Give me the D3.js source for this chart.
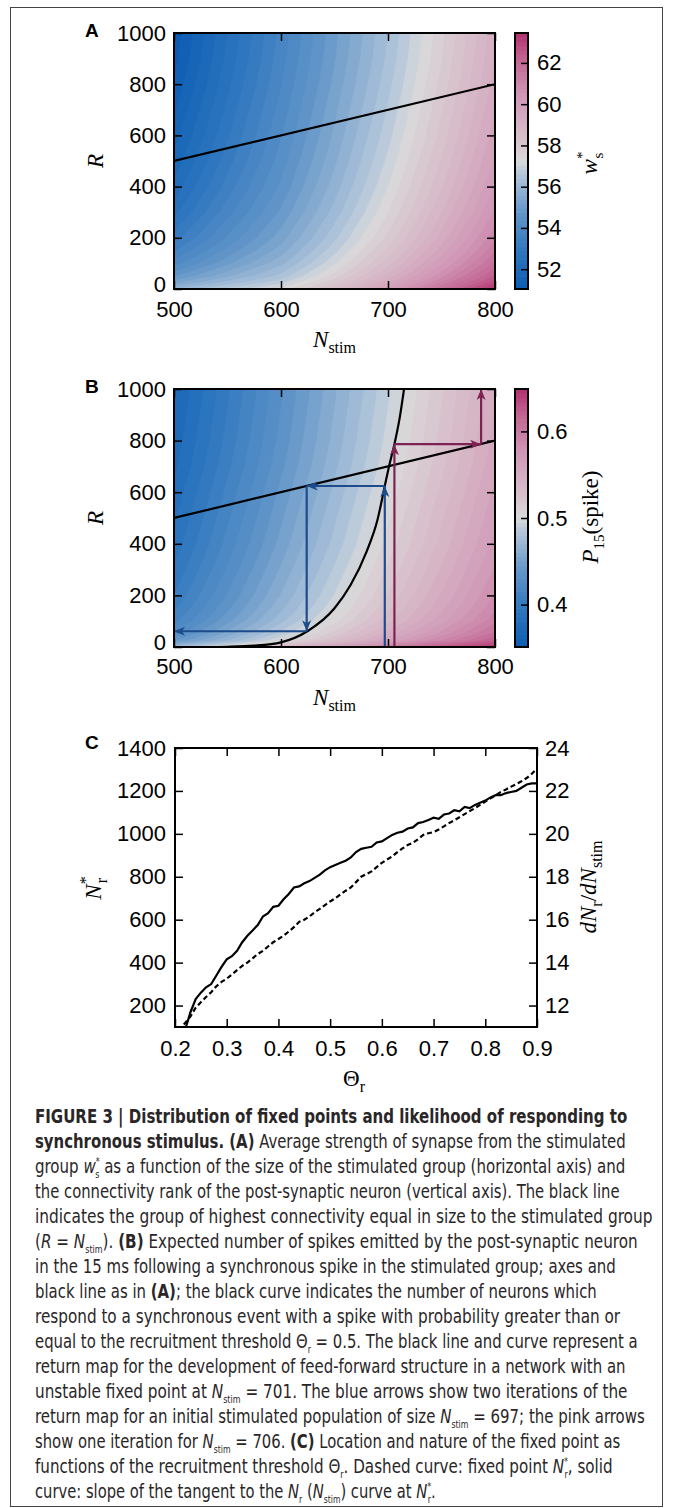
<!DOCTYPE html>
<html><head><meta charset="utf-8">
<script src="https://cdn.jsdelivr.net/npm/d3@7"></script>
<style>
body{margin:0;background:#fff;}
svg{display:block;}
.ax text{font-family:"Liberation Sans",Arial,Helvetica,sans-serif;font-size:22px;fill:#000;}
.ax line{stroke:#000;stroke-width:1.5;}
.ax path{display:none;}
.math{font-family:"Liberation Serif","Times New Roman",serif;fill:#000;}
.cap{font-family:"Liberation Sans Narrow","DejaVu Sans Condensed","Roboto Condensed","Liberation Sans",sans-serif;font-size:19px;fill:#2a2627;}
</style></head><body>
<svg id="fig" width="673" height="1508"></svg>
<script>
// ---------------- DATA ----------------
const nStimGrid = [500, 550, 600, 650, 700, 750, 800];
const rankGrid = [0, 25, 50, 100, 150, 200, 300, 400, 500, 600, 700, 800, 900, 1000];
// Panel A: w_s* (rows = rankGrid ascending, cols = nStimGrid)
const wsGrid = [
  [56.0, 56.7, 57.3, 58.5, 60.0, 61.7, 63.4],
  [55.3, 56.1, 56.8, 58.01, 59.48, 61.14, 62.81],
  [54.75, 55.63, 56.4, 57.63, 59.08, 60.7, 62.35],
  [54.05, 55.02, 55.9, 57.14, 58.56, 60.14, 61.76],
  [53.55, 54.59, 55.54, 56.79, 58.19, 59.74, 61.34],
  [53.15, 54.25, 55.25, 56.51, 57.89, 59.42, 61.01],
  [52.6, 53.78, 54.85, 56.12, 57.48, 58.98, 60.54],
  [52.2, 53.43, 54.56, 55.84, 57.19, 58.66, 60.21],
  [51.9, 53.17, 54.35, 55.63, 56.97, 58.42, 59.96],
  [51.65, 52.96, 54.17, 55.46, 56.78, 58.22, 59.75],
  [51.45, 52.79, 54.02, 55.32, 56.63, 58.06, 59.58],
  [51.25, 52.62, 53.88, 55.18, 56.49, 57.9, 59.41],
  [51.1, 52.49, 53.77, 55.07, 56.37, 57.78, 59.28],
  [51.0, 52.4, 53.7, 55.0, 56.3, 57.7, 59.2]
];
// Panel B: P15(spike)
const pSpikeGrid = [
  [0.473, 0.503, 0.533, 0.563, 0.593, 0.623, 0.645],
  [0.440, 0.470, 0.500, 0.530, 0.560, 0.590, 0.620],
  [0.428, 0.458, 0.488, 0.518, 0.548, 0.578, 0.608],
  [0.415, 0.445, 0.475, 0.505, 0.535, 0.565, 0.595],
  [0.408, 0.438, 0.468, 0.498, 0.528, 0.558, 0.588],
  [0.403, 0.433, 0.463, 0.493, 0.523, 0.553, 0.583],
  [0.396, 0.426, 0.456, 0.486, 0.516, 0.546, 0.576],
  [0.390, 0.420, 0.450, 0.480, 0.510, 0.540, 0.570],
  [0.386, 0.416, 0.446, 0.476, 0.506, 0.536, 0.566],
  [0.382, 0.412, 0.442, 0.472, 0.502, 0.532, 0.562],
  [0.378, 0.408, 0.438, 0.468, 0.498, 0.528, 0.558],
  [0.375, 0.405, 0.435, 0.465, 0.495, 0.525, 0.555],
  [0.373, 0.403, 0.433, 0.463, 0.493, 0.523, 0.553],
  [0.371, 0.401, 0.431, 0.461, 0.491, 0.521, 0.551]
];
const diagN = [500, 800];
const curveN = [500, 530, 550, 575, 600, 625, 650, 665, 680, 690, 697, 701, 706, 711, 715];
const curveR = [0, 0, 1, 5, 18, 62, 150, 240, 370, 490, 624, 701, 786, 890, 1000];
const blueArrows = [
  [697, 0, 697, 624], [697, 624, 624, 624], [624, 624, 624, 61], [624, 61, 500, 61]
];
const pinkArrows = [
  [706, 0, 706, 786], [706, 786, 787, 786], [787, 786, 787, 1000]
];
const thetaSolid = [0.221,0.225,0.23,0.235,0.24,0.25,0.26,0.27,0.28,0.29,0.30,0.31,0.32,0.33,0.34,0.35,0.36,0.37,0.38,0.39,0.40,0.41,0.42,0.43,0.44,0.45,0.46,0.47,0.48,0.49,0.50,0.51,0.52,0.53,0.54,0.55,0.56,0.57,0.58,0.59,0.60,0.61,0.62,0.63,0.64,0.65,0.66,0.67,0.68,0.69,0.70,0.71,0.72,0.73,0.74,0.75,0.76,0.77,0.78,0.79,0.80,0.81,0.82,0.83,0.84,0.85,0.86,0.87,0.88,0.89,0.90];
const slopeSolid = [11.0,11.3,11.7,12.0,12.3,12.6,12.85,13.0,13.4,13.8,14.15,14.3,14.55,14.95,15.25,15.5,15.75,16.15,16.3,16.6,16.65,16.95,17.2,17.5,17.55,17.7,17.8,17.95,18.1,18.3,18.45,18.55,18.65,18.75,18.9,19.15,19.3,19.35,19.4,19.6,19.65,19.8,19.95,20.05,20.1,20.25,20.3,20.5,20.55,20.65,20.75,20.7,20.9,20.95,21.1,21.05,21.25,21.2,21.35,21.45,21.55,21.7,21.8,21.8,21.9,21.95,22.0,22.15,22.3,22.35,22.35];
const thetaDashed = [0.217,0.22,0.23,0.24,0.25,0.26,0.27,0.28,0.29,0.30,0.31,0.32,0.33,0.34,0.35,0.36,0.37,0.38,0.39,0.40,0.41,0.42,0.43,0.44,0.45,0.46,0.47,0.48,0.49,0.50,0.51,0.52,0.53,0.54,0.55,0.56,0.57,0.58,0.59,0.60,0.61,0.62,0.63,0.64,0.65,0.66,0.67,0.68,0.69,0.70,0.71,0.72,0.73,0.74,0.75,0.76,0.77,0.78,0.79,0.80,0.81,0.82,0.83,0.84,0.85,0.86,0.87,0.88,0.89,0.90];
const nrDashed = [112,120,150,190,215,240,262,290,310,325,345,365,385,400,420,440,455,475,495,510,525,545,565,590,600,615,635,650,668,685,700,718,735,750,775,800,812,825,845,865,880,895,915,932,948,958,975,995,1003,1008,1020,1035,1050,1063,1077,1092,1106,1120,1135,1150,1165,1180,1195,1207,1220,1232,1245,1260,1280,1305];
const nStimTicks = [500, 600, 700, 800];
const rankTicks = [0, 200, 400, 600, 800, 1000];
const wsTicks = [52, 54, 56, 58, 60, 62];
const pTicks = [0.4, 0.5, 0.6];
const thetaTicks = [0.2, 0.3, 0.4, 0.5, 0.6, 0.7, 0.8, 0.9];
const nrTicks = [200, 400, 600, 800, 1000, 1200, 1400];
const slopeTicks = [12, 14, 16, 18, 20, 22, 24];

// ---------------- STYLE ----------------
const cmapPos = [0, 0.15, 0.3, 0.45, 0.5, 0.58, 0.75, 0.9, 1];
const cmapCol = ["#0b5cb3", "#2f77bf", "#6396c9", "#b3c6da", "#d9d9da", "#d8c3cd", "#d199b7", "#c26592", "#b3306f"];

const svg = d3.select("#fig");
svg.append("rect").attr("x", 10.5).attr("y", 7.5).attr("width", 652).attr("height", 1499)
  .attr("fill", "none").attr("stroke", "#444").attr("stroke-width", 1);

function rich(sel, parts, base) {
  let cur = 0;
  parts.forEach(p => {
    const fs = p.fs || base;
    let target = 0;
    if (p.sh === 'sub') target = base * 0.28;
    if (p.sh === 'sup') target = -base * 0.42;
    const ts = sel.append("tspan").text(p.t).attr("font-size", fs).attr("dy", target - cur);
    if (p.it) ts.attr("font-style", "italic");
    if (p.b) ts.attr("font-weight", "bold");
    if (p.dx) ts.attr("dx", p.dx);
    cur = target;
  });
}

function heatPanel(o) {
  const x = d3.scaleLinear().domain([500, 800]).range([o.left, o.right]);
  const y = d3.scaleLinear().domain([0, 1000]).range([o.bottom, o.top]);
  const color = d3.scaleLinear().domain(cmapPos.map(t => o.cmin + t * (o.cmax - o.cmin)))
    .range(cmapCol).clamp(true);
  const nx = nStimGrid.length, ny = rankGrid.length;
  const ix = d3.scaleLinear().domain(d3.range(nx)).range(nStimGrid);
  const iy = d3.scaleLinear().domain(d3.range(ny)).range(rankGrid);
  const values = o.grid.flat();
  const levels = d3.range(o.levels[0], o.levels[1], o.step);
  const contours = d3.contours().size([nx, ny]).thresholds(levels)(values);
  const proj = d3.geoTransform({ point(px, py) { this.stream.point(x(ix(px - 0.5)), y(iy(py - 0.5))); } });
  const path = d3.geoPath(proj);
  const cid = "clip" + o.name;
  svg.append("clipPath").attr("id", cid).append("rect")
    .attr("x", o.left).attr("y", o.top).attr("width", o.right - o.left).attr("height", o.bottom - o.top);
  const g = svg.append("g").attr("clip-path", `url(#${cid})`);
  g.selectAll("path.c").data(contours).join("path").attr("class", "c")
    .attr("d", path).attr("fill", d => color(d.value + o.step / 2))
    .attr("stroke", d => color(d.value + o.step / 2)).attr("stroke-width", 0.6);
  g.append("path").datum(diagN).attr("d", d3.line().x(d => x(d)).y(d => y(d)))
    .attr("stroke", "#000").attr("stroke-width", 2.2).attr("fill", "none");
  if (o.extra) o.extra(g, x, y);
  svg.append("g").attr("class", "ax").attr("transform", `translate(0,${o.bottom})`)
    .call(d3.axisBottom(x).tickValues(nStimTicks).tickSize(-8).tickPadding(o.xpad).tickFormat(d3.format("d")));
  svg.append("g").attr("class", "ax").attr("transform", `translate(0,${o.top})`)
    .call(d3.axisTop(x).tickValues(nStimTicks).tickSize(-8).tickFormat(""));
  const yax = svg.append("g").attr("class", "ax").attr("transform", `translate(${o.left},0)`)
    .call(d3.axisLeft(y).tickValues(rankTicks).tickSize(-8).tickPadding(8).tickFormat(d3.format("d")));
  // nudge the "0" label up slightly so it does not collide with the first x label
  yax.selectAll(".tick text").filter(d => d === 0).attr("dy", "0.1em");
  svg.append("g").attr("class", "ax").attr("transform", `translate(${o.right},0)`)
    .call(d3.axisRight(y).tickValues(rankTicks).tickSize(-8).tickFormat(""));
  svg.append("rect").attr("x", o.left).attr("y", o.top).attr("width", o.right - o.left)
    .attr("height", o.bottom - o.top).attr("fill", "none").attr("stroke", "#000").attr("stroke-width", 2);
  const cbx = 515, cbw = 13;
  const cy = d3.scaleLinear().domain([o.cmin, o.cmax]).range([o.bottom, o.top]);
  const bstep = (o.cmax - o.cmin) / 60;
  const bands = d3.range(o.cmin, o.cmax - bstep / 2, bstep);
  svg.append("g").selectAll("rect").data(bands).join("rect")
    .attr("x", cbx).attr("width", cbw)
    .attr("y", d => cy(Math.min(d + bstep, o.cmax)))
    .attr("height", d => cy(d) - cy(Math.min(d + bstep, o.cmax)) + 0.6)
    .attr("fill", d => color(d + bstep / 2));
  svg.append("g").attr("class", "ax").attr("transform", `translate(${cbx + cbw},0)`)
    .call(d3.axisRight(cy).tickValues(o.cticks).tickSize(-7).tickPadding(9).tickFormat(o.cfmt));
  svg.append("rect").attr("x", cbx).attr("y", o.top).attr("width", cbw).attr("height", o.bottom - o.top)
    .attr("fill", "none").attr("stroke", "#000").attr("stroke-width", 2);
  const xl = svg.append("text").attr("class", "math").attr("x", (o.left + o.right) / 2)
    .attr("y", o.bottom + 58).attr("text-anchor", "middle");
  rich(xl, [{ t: "N", it: 1 }, { t: "stim", sh: "sub", fs: 16 }], 23);
  const yl = svg.append("text").attr("class", "math")
    .attr("transform", `translate(103,${(o.top + o.bottom) / 2}) rotate(-90)`).attr("text-anchor", "middle");
  rich(yl, [{ t: "R", it: 1 }], 23);
  svg.append("text").attr("x", 85).attr("y", o.top + 4).text(o.name)
    .attr("font-family", "Liberation Sans, Arial, sans-serif").attr("font-weight", "bold").attr("font-size", 19);
  const cl = svg.append("text").attr("class", "math")
    .attr("transform", `translate(${o.clx},${o.cly}) rotate(-90)`).attr("text-anchor", "middle");
  rich(cl, o.clabel, 23);
}

heatPanel({
  name: "A", left: 174, right: 495, top: 33, bottom: 289, grid: wsGrid,
  cmin: 51.04, cmax: 63.45, levels: [50.9, 63.5], step: 0.3, cticks: wsTicks, cfmt: d3.format("d"),
  xpad: 12, clx: 597, cly: 163,
  clabel: [{ t: "w", it: 1 }, { t: "*", sh: "sup", fs: 15 }, { t: "s", sh: "sub", fs: 15, dx: -7 }]
});

function arrowMarker(id, col) {
  svg.append("defs").append("marker").attr("id", id).attr("viewBox", "0 -5 12 10")
    .attr("refX", 11).attr("refY", 0).attr("markerWidth", 12).attr("markerHeight", 10)
    .attr("markerUnits", "userSpaceOnUse").attr("orient", "auto")
    .append("path").attr("d", "M0,-4.5L11,0L0,4.5L3,0Z").attr("fill", col);
}
arrowMarker("ab", "#1d4b8c");
arrowMarker("ap", "#7d2352");

heatPanel({
  name: "B", left: 174, right: 495, top: 389, bottom: 647, grid: pSpikeGrid,
  cmin: 0.351, cmax: 0.649, levels: [0.35, 0.66], step: 0.0075, cticks: pTicks, cfmt: d3.format(".1f"),
  xpad: 11, clx: 598, cly: 517,
  clabel: [{ t: "P", it: 1 }, { t: "15", sh: "sub", fs: 15 }, { t: "(spike)", fs: 23 }],
  extra: (g, x, y) => {
    const pts = curveN.map((n, i) => [n, curveR[i]]);
    g.append("path").datum(pts).attr("d", d3.line().curve(d3.curveMonotoneX).x(d => x(d[0])).y(d => y(d[1])))
      .attr("stroke", "#000").attr("stroke-width", 2.2).attr("fill", "none");
    const drawArrows = (arr, col, mk) => g.selectAll(null).data(arr).join("line")
      .attr("x1", d => x(d[0])).attr("y1", d => y(d[1])).attr("x2", d => x(d[2])).attr("y2", d => y(d[3]))
      .attr("stroke", col).attr("stroke-width", 2.2).attr("marker-end", `url(#${mk})`);
    drawArrows(blueArrows, "#1d4b8c", "ab");
    drawArrows(pinkArrows, "#7d2352", "ap");
  }
});

// ---------------- Panel C ----------------
(function () {
  const L = 175, Rr = 537, T = 748, B = 1027;
  const x = d3.scaleLinear().domain([0.2, 0.9]).range([L, Rr]);
  const yL = d3.scaleLinear().domain([100, 1400]).range([B, T]);
  const yR = d3.scaleLinear().domain([11, 24]).range([B, T]);
  svg.append("clipPath").attr("id", "clipC").append("rect").attr("x", L).attr("y", T).attr("width", Rr - L).attr("height", B - T);
  const g = svg.append("g").attr("clip-path", "url(#clipC)");
  g.append("path").datum(thetaDashed.map((t, i) => [t, nrDashed[i]]))
    .attr("d", d3.line().x(d => x(d[0])).y(d => yL(d[1])))
    .attr("fill", "none").attr("stroke", "#000").attr("stroke-width", 2.2).attr("stroke-dasharray", "5,3");
  g.append("path").datum(thetaSolid.map((t, i) => [t, slopeSolid[i]]))
    .attr("d", d3.line().x(d => x(d[0])).y(d => yR(d[1])))
    .attr("fill", "none").attr("stroke", "#000").attr("stroke-width", 2.2);
  svg.append("g").attr("class", "ax").attr("transform", `translate(0,${B})`)
    .call(d3.axisBottom(x).tickValues(thetaTicks).tickSize(-8).tickPadding(13).tickFormat(d3.format(".1f")));
  svg.append("g").attr("class", "ax").attr("transform", `translate(0,${T})`)
    .call(d3.axisTop(x).tickValues(thetaTicks).tickSize(-8).tickFormat(""));
  svg.append("g").attr("class", "ax").attr("transform", `translate(${L},0)`)
    .call(d3.axisLeft(yL).tickValues(nrTicks).tickSize(-8).tickPadding(9).tickFormat(d3.format("d")));
  svg.append("g").attr("class", "ax").attr("transform", `translate(${Rr},0)`)
    .call(d3.axisRight(yR).tickValues(slopeTicks).tickSize(-8).tickPadding(8).tickFormat(d3.format("d")));
  svg.append("rect").attr("x", L).attr("y", T).attr("width", Rr - L).attr("height", B - T)
    .attr("fill", "none").attr("stroke", "#000").attr("stroke-width", 2);
  svg.append("text").attr("x", 85).attr("y", T + 1).text("C")
    .attr("font-family", "Liberation Sans, Arial, sans-serif").attr("font-weight", "bold").attr("font-size", 19);
  const xl = svg.append("text").attr("class", "math").attr("x", 354).attr("y", 1086).attr("text-anchor", "middle");
  rich(xl, [{ t: "Θ" }, { t: "r", sh: "sub", fs: 16 }], 23);
  const yl = svg.append("text").attr("class", "math").attr("transform", `translate(101,888) rotate(-90)`).attr("text-anchor", "middle");
  rich(yl, [{ t: "N", it: 1 }, { t: "*", sh: "sup", fs: 16 }, { t: "r", sh: "sub", fs: 16, dx: -7 }], 23);
  const yr = svg.append("text").attr("class", "math").attr("transform", `translate(596,887) rotate(-90)`).attr("text-anchor", "middle");
  rich(yr, [{ t: "dN", it: 1 }, { t: "r", sh: "sub", fs: 16 }, { t: "/", fs: 23 }, { t: "dN", it: 1 }, { t: "stim", sh: "sub", fs: 16 }], 23);
})();

// ---------------- Caption ----------------
const capLines = [
  [{ t: "FIGURE 3 | Distribution of fixed points and likelihood of responding to", b: 1 }],
  [{ t: "synchronous stimulus. (A)", b: 1 }, { t: " Average strength of synapse from the stimulated" }],
  [{ t: "group " }, { t: "w", it: 1 }, { t: "*", sh: "sup", fs: 10 }, { t: "s", sh: "sub", fs: 10, dx: -5 }, { t: " as a function of the size of the stimulated group (horizontal axis) and" }],
  [{ t: "the connectivity rank of the post-synaptic neuron (vertical axis). The black line" }],
  [{ t: "indicates the group of highest connectivity equal in size to the stimulated group" }],
  [{ t: "(" }, { t: "R", it: 1 }, { t: " = " }, { t: "N", it: 1 }, { t: "stim", sh: "sub", fs: 10 }, { t: "). " }, { t: "(B)", b: 1 }, { t: " Expected number of spikes emitted by the post-synaptic neuron" }],
  [{ t: "in the 15 ms following a synchronous spike in the stimulated group; axes and" }],
  [{ t: "black line as in " }, { t: "(A)", b: 1 }, { t: "; the black curve indicates the number of neurons which" }],
  [{ t: "respond to a synchronous event with a spike with probability greater than or" }],
  [{ t: "equal to the recruitment threshold Θ" }, { t: "r", sh: "sub", fs: 10 }, { t: " = 0.5. The black line and curve represent a" }],
  [{ t: "return map for the development of feed-forward structure in a network with an" }],
  [{ t: "unstable fixed point at " }, { t: "N", it: 1 }, { t: "stim", sh: "sub", fs: 10 }, { t: " = 701. The blue arrows show two iterations of the" }],
  [{ t: "return map for an initial stimulated population of size " }, { t: "N", it: 1 }, { t: "stim", sh: "sub", fs: 10 }, { t: " = 697; the pink arrows" }],
  [{ t: "show one iteration for " }, { t: "N", it: 1 }, { t: "stim", sh: "sub", fs: 10 }, { t: " = 706. " }, { t: "(C)", b: 1 }, { t: " Location and nature of the fixed point as" }],
  [{ t: "functions of the recruitment threshold Θ" }, { t: "r", sh: "sub", fs: 10 }, { t: ". Dashed curve: fixed point " }, { t: "N", it: 1 }, { t: "*", sh: "sup", fs: 10 }, { t: "r", sh: "sub", fs: 10, dx: -4 }, { t: ", solid" }],
  [{ t: "curve: slope of the tangent to the " }, { t: "N", it: 1 }, { t: "r", sh: "sub", fs: 10 }, { t: " (" }, { t: "N", it: 1 }, { t: "stim", sh: "sub", fs: 10 }, { t: ") curve at " }, { t: "N", it: 1 }, { t: "*", sh: "sup", fs: 10 }, { t: "r", sh: "sub", fs: 10, dx: -4 }, { t: "." }]
];
const capWidths = [593, 591, 591, 585, 618, 603, 581, 562, 586, 603, 591, 593, 610, 586, 578, 401];
capLines.forEach((parts, i) => {
  const t = svg.append("text").attr("class", "cap").attr("x", 0).attr("y", 0);
  rich(t, parts, 19);
  const w = t.node().getBBox().width || capWidths[i];
  t.attr("transform", `translate(35,${1123 + i * 25}) scale(${capWidths[i] / w},1)`);
});
</script>
</body></html>
